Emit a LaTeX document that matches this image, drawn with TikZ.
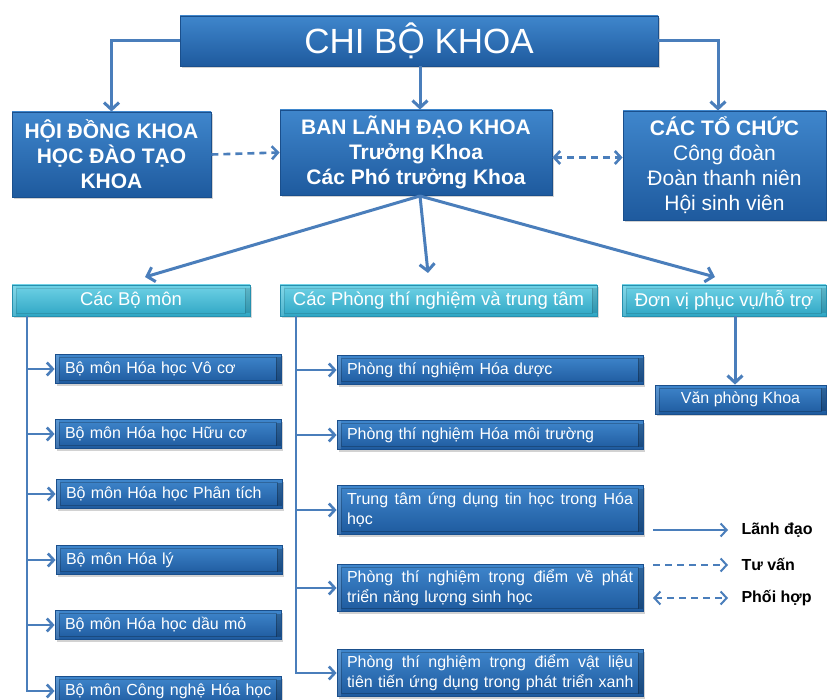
\documentclass[tikz,border=0pt]{standalone}
\usepackage{fontspec}
\setmainfont{Liberation Sans}
\usetikzlibrary{arrows.meta,calc,shadows}
\definecolor{bxtop}{HTML}{3F86CC}
\definecolor{bxbot}{HTML}{1E5A9E}
\definecolor{bxedge}{HTML}{1A4F8C}
\definecolor{hdtop}{HTML}{6FD2E6}
\definecolor{hdbot}{HTML}{2FA6C4}
\definecolor{hdedge}{HTML}{2690AE}
\definecolor{arr}{HTML}{4A7EBB}
\begin{document}
\begin{tikzpicture}[x=1pt,y=-1pt,
  bevel/.style={path picture={
    \fill[white,opacity=0.15] (path picture bounding box.north west) rectangle ([shift={(4pt,0pt)}]path picture bounding box.south west);
    \fill[black,opacity=#1] ([shift={(-5pt,-3pt)}]path picture bounding box.north east) rectangle ([shift={(0pt,3pt)}]path picture bounding box.south east);
    \draw[black,opacity=#1,line width=0.6pt] ([shift={(4pt,-3pt)}]path picture bounding box.north west) rectangle ([shift={(-5pt,3pt)}]path picture bounding box.south east);}},
  topbox/.style={draw=bxedge,line width=0.8pt,top color=bxtop,bottom color=bxbot,text=white,
    inner sep=0pt,drop shadow={opacity=0.35,shadow xshift=2pt,shadow yshift=-2pt}},
  bbox/.style={topbox,bevel=0.22},
  hbox/.style={draw=hdedge,line width=0.8pt,top color=hdtop,bottom color=hdbot,text=white,bevel=0.12,
    inner sep=0pt,font=\fontsize{18.5}{22}\selectfont,drop shadow={opacity=0.3,shadow xshift=2pt,shadow yshift=-2pt}},
  lbox/.style={bbox,minimum height=29pt,inner xsep=10pt,text width=#1,align=left,font=\fontsize{16}{20}\selectfont},
  lead/.style={draw=arr,line width=3pt,-{Straight Barb[length=7pt,width=15pt]}},
  thin/.style={draw=arr,line width=2.6pt,-{Straight Barb[length=6pt,width=13pt]}},
  adv/.style={thin,dash pattern=on 7pt off 5pt},
  coop/.style={draw=arr,line width=2.6pt,dash pattern=on 7pt off 5pt,{Straight Barb[length=6pt,width=13pt]}-{Straight Barb[length=6pt,width=13pt]}},
  legtxt/.style={anchor=west,font=\fontsize{16}{18}\selectfont\bfseries,text=black}]
\clip (0,0) rectangle (827,700);
\fill[white] (0,0) rectangle (827,700);

% top level
\node[topbox,minimum width=478pt,minimum height=50pt,font=\fontsize{35}{38}\selectfont] (chibo) at (419,41) {CHI BỘ KHOA};
\node[topbox,minimum width=199pt,minimum height=85pt,align=center,font=\fontsize{21}{25}\selectfont\bfseries] (hd) at (111.5,154.5) {HỘI ĐỒNG KHOA\\HỌC ĐÀO TẠO\\KHOA};
\node[topbox,minimum width=272pt,minimum height=85pt,align=center,font=\fontsize{21}{25}\selectfont\bfseries] (bld) at (416,152.5) {BAN LÃNH ĐẠO KHOA\\Trưởng Khoa\\Các Phó trưởng Khoa};
\node[topbox,minimum width=203pt,minimum height=109pt,align=center,font=\fontsize{21}{25}\selectfont] (tc) at (724.5,165.5) {\textbf{CÁC TỔ CHỨC}\\Công đoàn\\Đoàn thanh niên\\Hội sinh viên};

\draw[lead] (chibo.west) -| (hd.north);
\draw[lead] (chibo.south -| bld.north) ++(4,0) coordinate (c1) -- (c1 |- bld.north);
\coordinate (c2) at (718,41);
\draw[lead] (chibo.east) -- (c2) -- (c2 |- tc.north);
\draw[adv] (hd.east) -- (bld.west);
\draw[coop] ($(bld.east)+(0,5)$) coordinate (c3) -- (c3 -| tc.west);

% level 2 headers
\node[hbox,minimum width=238pt,minimum height=31pt] (h1) at (131,300.5) {Các Bộ môn};
\node[hbox,minimum width=317pt,minimum height=31pt] (h2) at (438.5,300.5) {Các Phòng thí nghiệm và trung tâm};
\node[hbox,minimum width=204pt,minimum height=31pt] (h3) at (724,300.5) {Đơn vị phục vụ/hỗ trợ};

\coordinate (s) at (420,196);
\coordinate (t1) at (145,277);
\coordinate (t2) at (428,273);
\coordinate (t3) at (715,277);
\draw[lead] (s) -- (t1);
\draw[lead] (s) -- (t2);
\draw[lead] (s) -- (t3);

% left column
\node[lbox=206pt] (b1) at (168,369) {Bộ môn Hóa học Vô cơ};
\node[lbox=206pt] (b2) at (168,434) {Bộ môn Hóa học Hữu cơ};
\node[lbox=206pt] (b3) at (169,494) {Bộ môn Hóa học Phân tích};
\node[lbox=206pt] (b4) at (169,560) {Bộ môn Hóa lý};
\node[lbox=206pt] (b5) at (168,625) {Bộ môn Hóa học dầu mỏ};
\node[lbox=206pt] (b6) at (168,691) {\mbox{Bộ môn Công nghệ Hóa học}};
\coordinate (lt) at (27,316);
\foreach \b in {b1,b2,b3,b4,b5,b6}{\draw[thin] (lt) |- (\b.west);}

% middle column
\node[lbox=286pt] (p1) at (490,370) {Phòng thí nghiệm Hóa dược};
\node[lbox=286pt] (p2) at (490,435) {Phòng thí nghiệm Hóa môi trường};
\node[lbox=286pt,minimum height=49pt] (p3) at (490,510) {\hbox to \linewidth{Trung\hfill tâm\hfill ứng\hfill dụng\hfill tin\hfill học\hfill trong\hfill Hóa}\\học};
\node[lbox=286pt,minimum height=47pt] (p4) at (490,588) {\hbox to \linewidth{Phòng\hfill thí\hfill nghiệm\hfill trọng\hfill điểm\hfill về\hfill phát}\\triển năng lượng sinh học};
\node[lbox=286pt,minimum height=47pt] (p5) at (490,673) {\hbox to \linewidth{Phòng\hfill thí\hfill nghiệm\hfill trọng\hfill điểm\hfill vật\hfill liệu}\\\mbox{tiên tiến ứng dụng trong phát triển xanh}};
\coordinate (mt) at (296,316);
\foreach \b in {p1,p2,p3,p4,p5}{\draw[thin] (mt) |- (\b.west);}

% right column
\node[bbox,minimum width=171pt,minimum height=29pt,font=\fontsize{16}{20}\selectfont] (vp) at (740.5,399.5) {Văn phòng Khoa};
\coordinate (rt) at (735,316);
\draw[lead] (rt) -- (rt |- vp.north);

% legend
\coordinate (l1) at (653,530); \coordinate (l1e) at (728,530);
\coordinate (l2) at (653,565); \coordinate (l2e) at (728,565);
\coordinate (l3) at (653,598); \coordinate (l3e) at (728,598);
\draw[thin,line width=2pt] (l1) -- (l1e);
\draw[adv,line width=2pt] (l2) -- (l2e);
\draw[coop,line width=2pt] (l3) -- (l3e);
\node[legtxt] (g1) at (738,530) {Lãnh đạo};
\node[legtxt] (g2) at (738,564) {Tư vấn};
\node[legtxt] (g3) at (738,598) {Phối hợp};
\end{tikzpicture}
\end{document}
